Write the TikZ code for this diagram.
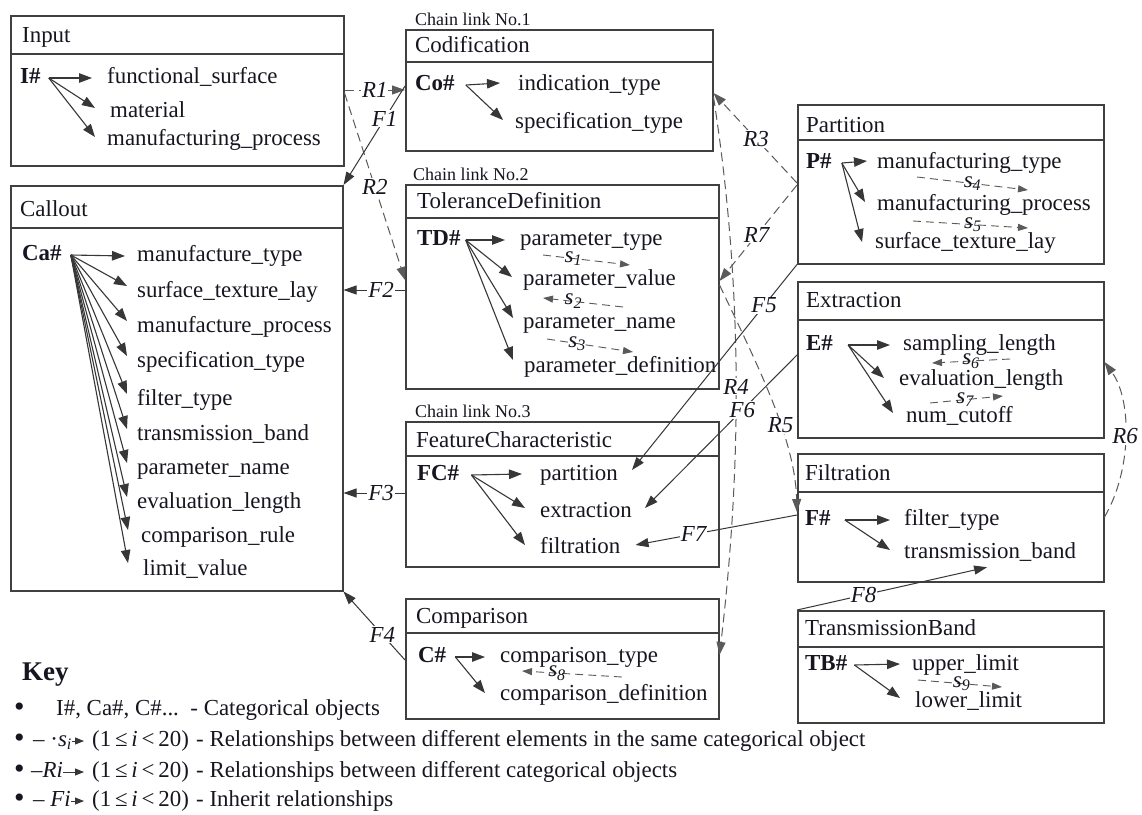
\documentclass[tikz,border=0pt]{standalone}
\usepackage{fontspec}
\setmainfont{Liberation Serif}
\usetikzlibrary{arrows.meta}

\definecolor{ink}{RGB}{22,22,32}
\definecolor{frame}{RGB}{64,64,64}
\definecolor{wire}{RGB}{55,55,55}
\definecolor{dashwire}{RGB}{90,90,90}

\newcommand{\bodysize}{\fontsize{22.9}{27}\selectfont}
\newcommand{\sidx}[1]{s\textsubscript{#1}}

\tikzset{
  objbox/.style={draw=frame, line width=1.5pt, anchor=north west, inner sep=0pt, rectangle},
  divider/.style={draw=frame, line width=1.5pt},
  txt/.style={anchor=west, inner sep=0pt, text=ink, font=\bodysize, text height=15pt, text depth=5pt},
  hash/.style={txt, font=\bodysize\bfseries},
  chain/.style={anchor=west, inner sep=0pt, text=ink, font=\fontsize{18}{21}\selectfont},
  bullet/.style={txt, font=\fontsize{30}{30}\selectfont},
  fan/.style={draw=wire, line width=1.1pt, -{Triangle[length=13pt,width=9.5pt]}},
  srel/.style={draw=dashwire, line width=0.9pt, dash pattern=on 8pt off 5pt, -{Triangle[length=10pt,width=7pt]}},
  rrel/.style={draw=dashwire, line width=1pt, dash pattern=on 9pt off 5pt, -{Triangle[length=13pt,width=9pt]}},
  frel/.style={draw=wire, line width=1pt, -{Triangle[length=13pt,width=9pt]}},
  keyarrow/.style={draw=wire, line width=1pt, -{Triangle[length=9pt,width=7pt]}},
  lbl/.style={fill=white, inner sep=1pt, text=ink, font=\bodysize\itshape},
  slbl/.style={inner sep=0pt, text=ink, font=\bodysize\itshape},
}

\begin{document}
\begin{tikzpicture}[x=1pt, y=-1pt]
\fill[white] (0,0) rectangle (1142,814);
\useasboundingbox (0,0) rectangle (1142,814);

% ---------- Input ----------
\node[objbox, minimum width=333pt, minimum height=150pt] (input) at (10,15) {};
\draw[divider] (input.west |- 0,54) -- (input.east |- 0,54);
\node[txt] (inputT) at (22,37) {Input};
\node[hash] (iH) at (20,78) {I\#};
\node[txt] (i1) at (107,78) {functional\_surface};
\node[txt] (i2) at (110,112) {material};
\node[txt] (i3) at (107,140) {manufacturing\_process};
\coordinate (iO) at ([xshift=8pt]iH.east);
\draw[fan] (iO) -- ([shift={(-15pt,0pt)}]i1.west);
\draw[fan] (iO) -- ([shift={(-15pt,4pt)}]i2.west);
\draw[fan] (iO) -- ([shift={(-12pt,3pt)}]i3.west);

% ---------- Callout ----------
\node[objbox, minimum width=332pt, minimum height=405pt] (callout) at (10,185) {};
\draw[divider] (callout.west |- 0,228) -- (callout.east |- 0,228);
\node[txt] (calloutT) at (20,211) {Callout};
\node[hash] (caH) at (22,255) {Ca\#};
\node[txt] (ca1) at (137,256) {manufacture\_type};
\node[txt] (ca2) at (137,292) {surface\_texture\_lay};
\node[txt] (ca3) at (137,327) {manufacture\_process};
\node[txt] (ca4) at (137,362) {specification\_type};
\node[txt] (ca5) at (137,400) {filter\_type};
\node[txt] (ca6) at (137,435) {transmission\_band};
\node[txt] (ca7) at (137,469) {parameter\_name};
\node[txt] (ca8) at (137,503) {evaluation\_length};
\node[txt] (ca9) at (141,537) {comparison\_rule};
\node[txt] (ca10) at (143,570) {limit\_value};
\coordinate (caO) at ([xshift=9pt]caH.east);
\draw[fan] (caO) -- ([shift={(-12pt,0pt)}]ca1.west);
\foreach \n in {2,...,8} \draw[fan] (caO) -- ([shift={(-10pt,6pt)}]ca\n.west);
\draw[fan] (caO) -- ([shift={(-13pt,7pt)}]ca9.west);
\draw[fan] (caO) -- ([shift={(-15pt,7pt)}]ca10.west);

% ---------- Codification ----------
\node[chain] (chain1) at (415,19) {Chain link No.1};
\node[objbox, minimum width=307pt, minimum height=121pt] (cod) at (405,29) {};
\draw[divider] (cod.west |- 0,62) -- (cod.east |- 0,62);
\node[txt] (codT) at (415,47) {Codification};
\node[hash] (coH) at (415,85) {Co\#};
\node[txt] (co1) at (518,85) {indication\_type};
\node[txt] (co2) at (515,123) {specification\_type};
\coordinate (coO) at ([xshift=11pt]coH.east);
\draw[fan] (coO) -- ([shift={(-18pt,2pt)}]co1.west);
\draw[fan] (coO) -- ([shift={(-12pt,3pt)}]co2.west);

% ---------- ToleranceDefinition ----------
\node[chain] (chain2) at (413,174) {Chain link No.2};
\node[objbox, minimum width=313pt, minimum height=204pt] (td) at (405,184) {};
\draw[divider] (td.west |- 0,218) -- (td.east |- 0,218);
\node[txt] (tdT) at (417,203) {ToleranceDefinition};
\node[hash] (tdH) at (417,240) {TD\#};
\node[txt] (td1) at (520,240) {parameter\_type};
\node[txt] (td2) at (523,280) {parameter\_value};
\node[txt] (td3) at (523,323) {parameter\_name};
\node[txt] (td4) at (524,367) {parameter\_definition};
\coordinate (tdO) at ([xshift=5pt]tdH.east);
\draw[fan] (tdO) -- ([shift={(-15pt,0pt)}]td1.west);
\draw[fan] (tdO) -- ([shift={(-11pt,3pt)}]td2.west);
\draw[fan] (tdO) -- ([shift={(-10pt,5pt)}]td3.west);
\draw[fan] (tdO) -- ([shift={(-11pt,7pt)}]td4.west);
\draw[srel] ([shift={(23pt,-15pt)}]td1.west) -- node[slbl, pos=.35] {\sidx{1}} ([shift={(107pt,15pt)}]td2.west);
\draw[srel] ([shift={(100pt,16pt)}]td3.west) -- node[slbl, pos=.62] {\sidx{2}} ([shift={(20pt,-18pt)}]td2.west);
\draw[srel] ([shift={(24pt,-16pt)}]td3.west) -- node[slbl, pos=.35] {\sidx{3}} ([shift={(109pt,15pt)}]td4.west);

% ---------- FeatureCharacteristic ----------
\node[chain] (chain3) at (415,411) {Chain link No.3};
\node[objbox, minimum width=313pt, minimum height=145pt] (fc) at (405,421) {};
\draw[divider] (fc.west |- 0,456) -- (fc.east |- 0,456);
\node[txt] (fcT) at (416,442) {FeatureCharacteristic};
\node[hash] (fcH) at (417,475) {FC\#};
\node[txt] (fc1) at (540,475) {partition};
\node[txt] (fc2) at (540,512) {extraction};
\node[txt] (fc3) at (540,548) {filtration};
\coordinate (fcO) at ([xshift=12pt]fcH.east);
\draw[fan] (fcO) -- ([shift={(-18pt,1pt)}]fc1.west);
\draw[fan] (fcO) -- ([shift={(-15pt,4pt)}]fc2.west);
\draw[fan] (fcO) -- ([shift={(-15pt,3pt)}]fc3.west);

% ---------- Comparison ----------
\node[objbox, minimum width=313pt, minimum height=120pt] (cmp) at (405,598) {};
\draw[divider] (cmp.west |- 0,633) -- (cmp.east |- 0,633);
\node[txt] (cmpT) at (416,618) {Comparison};
\node[hash] (cH) at (418,657) {C\#};
\node[txt] (cp1) at (500,657) {comparison\_type};
\node[txt] (cp2) at (500,695) {comparison\_definition};
\coordinate (cO) at ([xshift=9pt]cH.east);
\draw[fan] (cO) -- ([shift={(-15pt,0pt)}]cp1.west);
\draw[fan] (cO) -- ([shift={(-15pt,2pt)}]cp2.west);
\draw[srel] ([shift={(122pt,18pt)}]cp2.west) -- node[slbl, pos=.65] {\sidx{8}} ([shift={(22pt,-14pt)}]cp1.west);

% ---------- Partition ----------
\node[objbox, minimum width=306pt, minimum height=159pt] (part) at (797,104) {};
\draw[divider] (part.west |- 0,140) -- (part.east |- 0,140);
\node[txt] (partT) at (806,127) {Partition};
\node[hash] (pH) at (806,163) {P\#};
\node[txt] (pm1) at (877,163) {manufacturing\_type};
\node[txt] (pm2) at (877,205) {manufacturing\_process};
\node[txt] (pm3) at (875,243) {surface\_texture\_lay};
\coordinate (pO) at ([xshift=10pt]pH.east);
\draw[fan] (pO) -- ([shift={(-10pt,2pt)}]pm1.west);
\draw[fan] (pO) -- ([shift={(-12pt,3pt)}]pm2.west);
\draw[fan] (pO) -- ([shift={(-13pt,1pt)}]pm3.west);
\draw[srel] ([shift={(40pt,-14pt)}]pm1.west) -- node[slbl, pos=.5] {\sidx{4}} ([shift={(151pt,15pt)}]pm2.west);
\draw[srel] ([shift={(36pt,-16pt)}]pm2.west) -- node[slbl, pos=.52] {\sidx{5}} ([shift={(153pt,15pt)}]pm3.west);

% ---------- Extraction ----------
\node[objbox, minimum width=306pt, minimum height=156pt] (ext) at (797,281) {};
\draw[divider] (ext.west |- 0,320) -- (ext.east |- 0,320);
\node[txt] (extT) at (806,302) {Extraction};
\node[hash] (eH) at (806,345) {E\#};
\node[txt] (ex1) at (903,345) {sampling\_length};
\node[txt] (ex2) at (899,380) {evaluation\_length};
\node[txt] (ex3) at (906,417) {num\_cutoff};
\coordinate (eO) at ([xshift=15pt]eH.east);
\draw[fan] (eO) -- ([shift={(-13pt,0pt)}]ex1.west);
\draw[fan] (eO) -- ([shift={(-15pt,2pt)}]ex2.west);
\draw[fan] (eO) -- ([shift={(-13pt,4pt)}]ex3.west);
\draw[srel] ([shift={(111pt,21pt)}]ex2.west) -- node[slbl, pos=.5] {\sidx{6}} ([shift={(29pt,-18pt)}]ex1.west);
\draw[srel] ([shift={(31pt,-23pt)}]ex2.west) -- node[slbl, pos=.48] {\sidx{7}} ([shift={(97pt,21pt)}]ex3.west);

% ---------- Filtration ----------
\node[objbox, minimum width=306pt, minimum height=128pt] (flt) at (797,453) {};
\draw[divider] (flt.west |- 0,492) -- (flt.east |- 0,492);
\node[txt] (fltT) at (805,475) {Filtration};
\node[hash] (fH) at (805,520) {F\#};
\node[txt] (fl1) at (904,520) {filter\_type};
\node[txt] (fl2) at (904,553) {transmission\_band};
\coordinate (fO) at ([xshift=14pt]fH.east);
\draw[fan] (fO) -- ([shift={(-14pt,0pt)}]fl1.west);
\draw[fan] (fO) -- ([shift={(-14pt,3pt)}]fl2.west);

% ---------- TransmissionBand ----------
\node[objbox, minimum width=306pt, minimum height=112pt] (tband) at (797,610) {};
\draw[divider] (tband.west |- 0,647) -- (tband.east |- 0,647);
\node[txt] (tbandT) at (805,630) {TransmissionBand};
\node[hash] (tbH) at (805,665) {TB\#};
\node[txt] (tb1) at (912,665) {upper\_limit};
\node[txt] (tb2) at (915,702) {lower\_limit};
\coordinate (tbO) at ([xshift=7pt]tbH.east);
\draw[fan] (tbO) -- ([shift={(-12pt,1pt)}]tb1.west);
\draw[fan] (tbO) -- ([shift={(-15pt,4pt)}]tb2.west);
\draw[srel] ([shift={(6pt,-15pt)}]tb1.west) -- node[slbl, pos=.52] {\sidx{9}} ([shift={(87pt,15pt)}]tb2.west);

% ---------- relationships between objects (R) ----------
\draw[rrel] (input.east |- 0,90) -- node[lbl, pos=.5] {R1} (cod.west |- 0,90);
\draw[rrel] (input.east |- 0,93) -- node[lbl, pos=.5] {R2} (td.west |- 0,280);
\draw[rrel] (part.west |- 0,183) -- node[lbl, pos=.49] {R3} (cod.east |- 0,93);
\draw[rrel] (cod.east |- 0,97) .. controls (745,300) and (740,480) .. node[lbl, pos=.5] {R4} (cmp.east |- 0,655);
\draw[rrel] (td.east |- 0,285) .. controls (760,370) and (795,440) .. node[lbl, pos=.6] {R5} (flt.west |- 0,512);
\draw[rrel] (flt.east |- 0,517) .. controls (1132,470) and (1132,400) .. node[lbl, pos=.5] {R6} (ext.east |- 0,362);
\draw[rrel] (part.west |- 0,185) -- node[lbl, pos=.52] {R7} (td.east |- 0,281);

% ---------- inherit relationships (F) ----------
\draw[frel] (cod.west |- 0,86) -- node[lbl, pos=.33] {F1} (callout.north east);
\draw[frel] (td.west |- 0,290) -- node[lbl, pos=.39] {F2} (callout.east |- 0,290);
\draw[frel] (fc.west |- 0,493) -- node[lbl, pos=.39] {F3} (callout.east |- 0,493);
\draw[frel] (cmp.west |- 0,660) -- node[lbl, pos=.37] {F4} (callout.south east);
\draw[frel] (part.south west) -- node[lbl, pos=.2] {F5} ([shift={(14pt,5pt)}]fc1.east);
\draw[frel] (ext.west |- 0,355) -- node[lbl, pos=.36] {F6} ([shift={(13pt,4pt)}]fc2.east);
\draw[frel] (flt.west |- 0,515) -- node[lbl, pos=.64] {F7} ([shift={(15pt,3pt)}]fc3.east);
\draw[frel] (tband.north west) -- node[lbl, pos=.35] {F8} ([shift={(-3pt,-4pt)}]fl2.south);

% ---------- Key ----------
\node[anchor=west, inner sep=0pt, text=ink, font=\fontsize{27}{31}\selectfont\bfseries, text height=18pt, text depth=6pt] (key) at (22,674) {Key};

\node[bullet] (b1) at (14,711) {•};
\node[txt] (k1t) at (56,710) {I\#, Ca\#, C\#...\ \ - Categorical objects};

\node[bullet] (b2) at (14,742) {•};
\node[txt] (k2g) at (33,741) {– ·\textit{\sidx{i}}};
\coordinate (k2e) at (84,741);
\draw[keyarrow] (k2g.east) -- (k2e);
\node[txt] (k2r) at (92,741) {(1\,≤\,\textit{i}\,<\,20)};
\node[txt] (k2t) at (196,741) {- Relationships between different elements in the same categorical object};

\node[bullet] (b3) at (14,773) {•};
\node[txt] (k3g) at (31,772) {–\textit{Ri}};
\coordinate (k3e) at (84,772);
\draw[keyarrow] (k3g.east) -- (k3e);
\node[txt] (k3r) at (92,772) {(1\,≤\,\textit{i}\,<\,20)};
\node[txt] (k3t) at (196,772) {- Relationships between different categorical objects};

\node[bullet] (b4) at (14,802) {•};
\node[txt] (k4g) at (33,801) {– \textit{Fi}};
\coordinate (k4e) at (84,801);
\draw[keyarrow] (k4g.east) -- (k4e);
\node[txt] (k4r) at (92,801) {(1\,≤\,\textit{i}\,<\,20)};
\node[txt] (k4t) at (196,801) {- Inherit relationships};
\end{tikzpicture}
\end{document}
